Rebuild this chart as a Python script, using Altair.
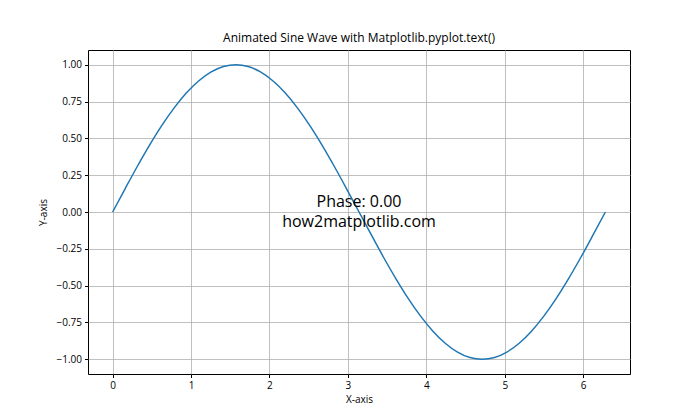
import altair as alt
import pandas as pd

x_vals = [0.0, 0.157, 0.314, 0.471, 0.628, 0.785, 0.942, 1.100, 1.257, 1.414,
          1.571, 1.728, 1.885, 2.042, 2.199, 2.356, 2.513, 2.670, 2.827, 2.985,
          3.142, 3.299, 3.456, 3.613, 3.770, 3.927, 4.084, 4.241, 4.398, 4.555,
          4.712, 4.869, 5.027, 5.184, 5.341, 5.498, 5.655, 5.812, 5.969, 6.126, 6.283]
y_vals = [0.0, 0.156, 0.309, 0.454, 0.588, 0.707, 0.809, 0.891, 0.951, 0.988,
          1.0, 0.988, 0.951, 0.891, 0.809, 0.707, 0.588, 0.454, 0.309, 0.156,
          0.0, -0.156, -0.309, -0.454, -0.588, -0.707, -0.809, -0.891, -0.951, -0.988,
          -1.0, -0.988, -0.951, -0.891, -0.809, -0.707, -0.588, -0.454, -0.309, -0.156, 0.0]
x_ticks = [0, 1, 2, 3, 4, 5, 6]
y_ticks = [-1.0, -0.75, -0.5, -0.25, 0.0, 0.25, 0.5, 0.75, 1.0]
label_x = [3.1416]
label_y = [0.0]
label_text = ["Phase: 0.00\nhow2matplotlib.com"]

FONT = "Open Sans"

df = pd.DataFrame({"x": x_vals, "y": y_vals})
lab = pd.DataFrame({"x": label_x, "y": label_y, "t": label_text})

xscale = alt.Scale(domain=[-0.314, 6.597], nice=False, zero=False)
yscale = alt.Scale(domain=[-1.1, 1.1], nice=False, zero=False)

xaxis = alt.Axis(values=x_ticks, title="X-axis", format="d", grid=True, gridColor="#b0b0b0",
                 gridWidth=0.8, tickColor="black", tickSize=3.5, domain=False,
                 labelFont=FONT, labelFontSize=10, labelColor="black", labelPadding=3,
                 titleFont=FONT, titleFontSize=10, titleFontWeight="normal", titleColor="black",
                 titlePadding=4)
yaxis = alt.Axis(values=y_ticks, title="Y-axis", format=".2f", grid=True, gridColor="#b0b0b0",
                 gridWidth=0.8, tickColor="black", tickSize=3.5, domain=False,
                 labelFont=FONT, labelFontSize=10, labelColor="black", labelPadding=3,
                 titleFont=FONT, titleFontSize=10, titleFontWeight="normal", titleColor="black",
                 titlePadding=8)

line = alt.Chart(df).mark_line(color="#1f77b4", strokeWidth=1.5, interpolate="monotone").encode(
    x=alt.X("x:Q", scale=xscale, axis=xaxis),
    y=alt.Y("y:Q", scale=yscale, axis=yaxis),
)

text = alt.Chart(lab).mark_text(font=FONT, fontSize=16, align="center", baseline="middle",
                                lineBreak="\n", lineHeight=19.5, dy=-10, color="black").encode(
    x=alt.X("x:Q", scale=xscale),
    y=alt.Y("y:Q", scale=yscale),
    text="t:N",
)

chart = alt.layer(line, text).properties(
    width=542, height=324,
    title=alt.TitleParams("Animated Sine Wave with Matplotlib.pyplot.text()", font=FONT,
                          fontSize=12, fontWeight="normal", color="black", offset=5),
    autosize=alt.AutoSizeParams(type="none"),
    padding={"left": 80, "top": 42, "right": 62, "bottom": 38},
).configure_view(stroke="black", strokeWidth=1)

chart.save("out.html", embed_options={"renderer": "svg", "actions": False})
